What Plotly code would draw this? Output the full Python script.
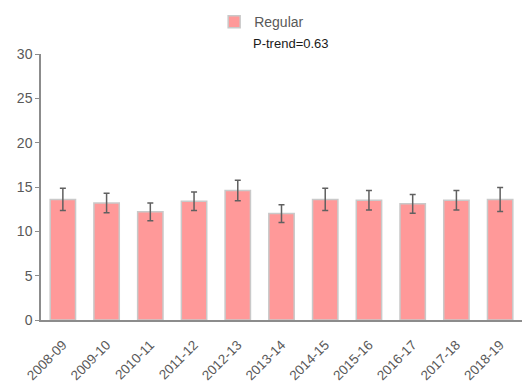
import plotly.graph_objects as go

# School years and mean values with their error margins
years = ["2008-09", "2009-10", "2010-11", "2011-12", "2012-13", "2013-14",
         "2014-15", "2015-16", "2016-17", "2017-18", "2018-19"]
regular = [13.6, 13.2, 12.2, 13.4, 14.6, 12.0, 13.6, 13.5, 13.1, 13.5, 13.6]
regular_err = [1.25, 1.1, 1.0, 1.05, 1.15, 1.0, 1.25, 1.1, 1.05, 1.1, 1.35]
y_ticks = [0, 5, 10, 15, 20, 25, 30]

font_family = "Liberation Sans, Arial, sans-serif"
grey = "#595959"

fig = go.Figure()
fig.add_trace(go.Bar(
    x=years,
    y=regular,
    name="Regular",
    marker=dict(color="#FF9999", line=dict(color="#C9C9C9", width=1.5)),
    error_y=dict(type="data", array=regular_err, visible=True,
                 color="#606060", thickness=1.5, width=3),
))

fig.update_layout(
    width=526,
    height=385,
    margin=dict(l=41, r=4, t=54, b=65),
    paper_bgcolor="white",
    plot_bgcolor="white",
    bargap=0.42,
    font=dict(family=font_family, color=grey),
    showlegend=True,
    legend=dict(
        orientation="h",
        x=0.36, xanchor="left",
        y=1.12, yanchor="middle",
        font=dict(size=14, color=grey),
        itemwidth=30,
        bgcolor="rgba(0,0,0,0)",
    ),
    xaxis=dict(
        type="category",
        showline=True, linecolor="#8C8C8C", linewidth=1.5,
        ticks="", tickangle=-45, ticklabelstandoff=10,
        tickfont=dict(size=13.5, color=grey),
        showgrid=False,
        automargin=False,
    ),
    yaxis=dict(
        range=[0, 30], tickvals=y_ticks,
        showline=True, linecolor="#8C8C8C", linewidth=1.5,
        ticks="outside", ticklen=4, tickcolor="#8C8C8C",
        tickfont=dict(size=14, color=grey),
        showgrid=False, zeroline=False,
    ),
)

fig.add_annotation(
    text="P-trend=0.63",
    xref="paper", yref="paper",
    x=0.52, y=1.005, xanchor="center", yanchor="bottom",
    showarrow=False,
    font=dict(size=13, color="#1a1a1a", family=font_family),
)

fig.write_html("out.html")
